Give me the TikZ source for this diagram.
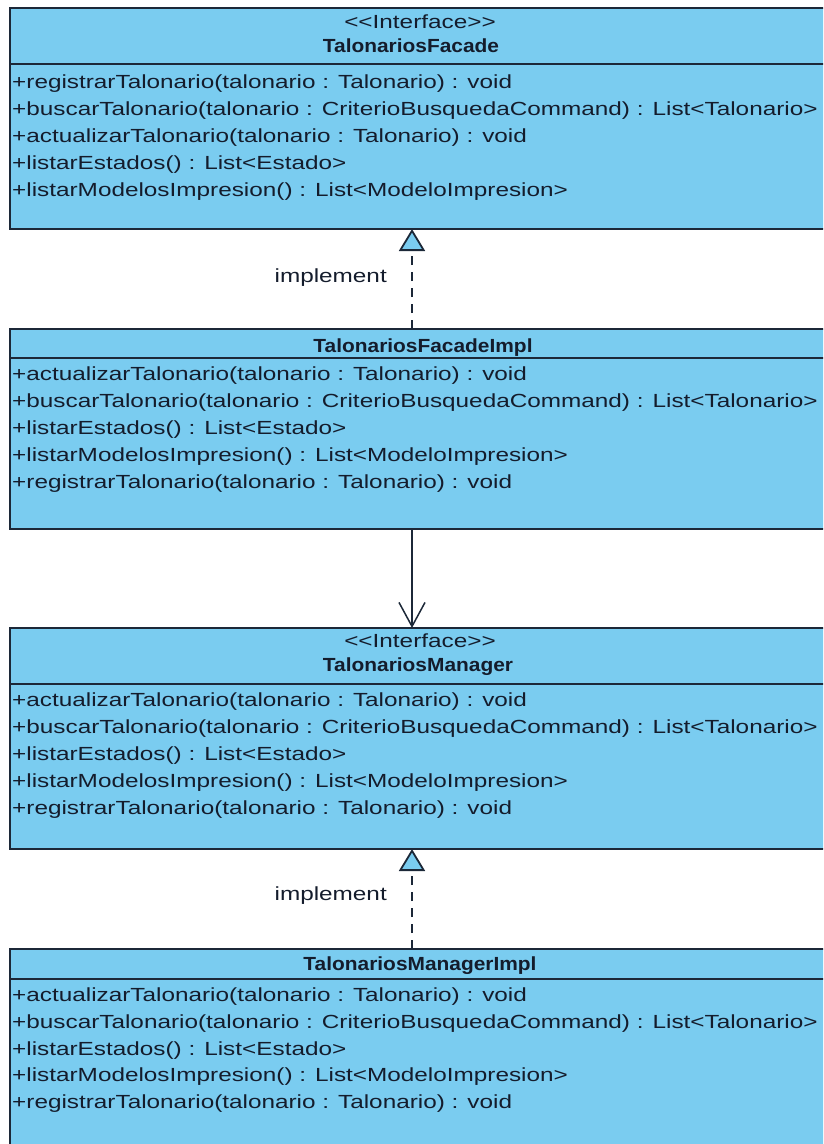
\documentclass[tikz,border=0pt]{standalone}
\usepackage{fontspec}
\setmainfont{Liberation Sans}
\newfontfamily\umlfont[FakeStretch=1.28]{Liberation Sans}
\newfontfamily\umlnamefont[FakeStretch=1.1]{Liberation Sans}
\usetikzlibrary{arrows.meta}
\definecolor{umlfill}{RGB}{122,204,240}
\definecolor{umlline}{RGB}{28,40,56}
\definecolor{umltext}{RGB}{20,28,44}

\tikzset{
  classbox/.style={rectangle, draw=umlline, line width=1.8pt, fill=umlfill,
    anchor=north west, minimum width=820pt, inner sep=0pt, outer sep=0pt},
  sepline/.style={draw=umlline, line width=1.6pt},
  member/.style={anchor=base west, inner sep=0pt, text=umltext,
    font=\umlfont\fontsize{19}{23}\selectfont},
  stereo/.style={anchor=base, inner sep=0pt, text=umltext,
    font=\umlfont\fontsize{19}{23}\selectfont},
  cname/.style={anchor=base, inner sep=0pt, text=umltext,
    font=\umlnamefont\bfseries\fontsize{19}{23}\selectfont},
  edgelabel/.style={anchor=base east, inner sep=0pt, text=umltext,
    font=\umlfont\fontsize{19}{23}\selectfont},
  realize/.style={draw=umlline, line width=1.5pt, dash pattern=on 9pt off 7pt,
    -{Triangle[fill=umlfill, length=22pt, width=26pt, line width=1.8pt]}},
  depend/.style={draw=umlline, line width=1.5pt,
    -{Straight Barb[length=24pt, width=26pt, line width=1.5pt]}}
}

\begin{document}
\begin{tikzpicture}[x=1pt, y=-1pt]
\useasboundingbox (0,0) rectangle (823,1144);
\fill[white] (0,0) rectangle (823,1144);
\clip (0,0) rectangle (823,1144);

% ---- TalonariosFacade (interface) ----
\node[classbox, minimum height=221pt] (facade) at (10,8) {};
\draw[sepline] (facade.west |- 0,64) -- (facade.east |- 0,64);
\node[stereo] (fst) at (420,28) {<<Interface>>};
\node[cname]  (fnm) at (411,52) {TalonariosFacade};
\node[member] (fm1) at (12,88)  {+registrarTalonario(talonario : Talonario) : void};
\node[member] (fm2) at (12,115) {+buscarTalonario(talonario : CriterioBusquedaCommand) : List<Talonario>};
\node[member] (fm3) at (12,142) {+actualizarTalonario(talonario : Talonario) : void};
\node[member] (fm4) at (12,169) {+listarEstados() : List<Estado>};
\node[member] (fm5) at (12,196) {+listarModelosImpresion() : List<ModeloImpresion>};

% ---- TalonariosFacadeImpl ----
\node[classbox, minimum height=200pt] (fimpl) at (10,329) {};
\draw[sepline] (fimpl.west |- 0,358) -- (fimpl.east |- 0,358);
\node[cname]  (inm) at (423,352) {TalonariosFacadeImpl};
\node[member] (im1) at (12,380) {+actualizarTalonario(talonario : Talonario) : void};
\node[member] (im2) at (12,407) {+buscarTalonario(talonario : CriterioBusquedaCommand) : List<Talonario>};
\node[member] (im3) at (12,434) {+listarEstados() : List<Estado>};
\node[member] (im4) at (12,461) {+listarModelosImpresion() : List<ModeloImpresion>};
\node[member] (im5) at (12,488) {+registrarTalonario(talonario : Talonario) : void};

% ---- TalonariosManager (interface) ----
\node[classbox, minimum height=221pt] (manager) at (10,628) {};
\draw[sepline] (manager.west |- 0,684) -- (manager.east |- 0,684);
\node[stereo] (mst) at (420,647) {<<Interface>>};
\node[cname]  (mnm) at (418,671) {TalonariosManager};
\node[member] (mm1) at (12,706) {+actualizarTalonario(talonario : Talonario) : void};
\node[member] (mm2) at (12,733) {+buscarTalonario(talonario : CriterioBusquedaCommand) : List<Talonario>};
\node[member] (mm3) at (12,760) {+listarEstados() : List<Estado>};
\node[member] (mm4) at (12,787) {+listarModelosImpresion() : List<ModeloImpresion>};
\node[member] (mm5) at (12,814) {+registrarTalonario(talonario : Talonario) : void};

% ---- TalonariosManagerImpl ----
\node[classbox, minimum height=200pt] (mimpl) at (10,949) {};
\draw[sepline] (mimpl.west |- 0,979) -- (mimpl.east |- 0,979);
\node[cname]  (jnm) at (420,970) {TalonariosManagerImpl};
\node[member] (jm1) at (12,1001) {+actualizarTalonario(talonario : Talonario) : void};
\node[member] (jm2) at (12,1028) {+buscarTalonario(talonario : CriterioBusquedaCommand) : List<Talonario>};
\node[member] (jm3) at (12,1055) {+listarEstados() : List<Estado>};
\node[member] (jm4) at (12,1081) {+listarModelosImpresion() : List<ModeloImpresion>};
\node[member] (jm5) at (12,1108) {+registrarTalonario(talonario : Talonario) : void};

% ---- relations ----
\coordinate (axis) at (412,0);
\draw[realize] (fimpl.north -| axis) -- (facade.south -| axis);
\node[edgelabel] (lbl1) at (387,282) {implement};
\draw[depend] (fimpl.south -| axis) -- (manager.north -| axis);
\draw[realize] (mimpl.north -| axis) -- (manager.south -| axis);
\node[edgelabel] (lbl2) at (387,900) {implement};
\end{tikzpicture}
\end{document}
